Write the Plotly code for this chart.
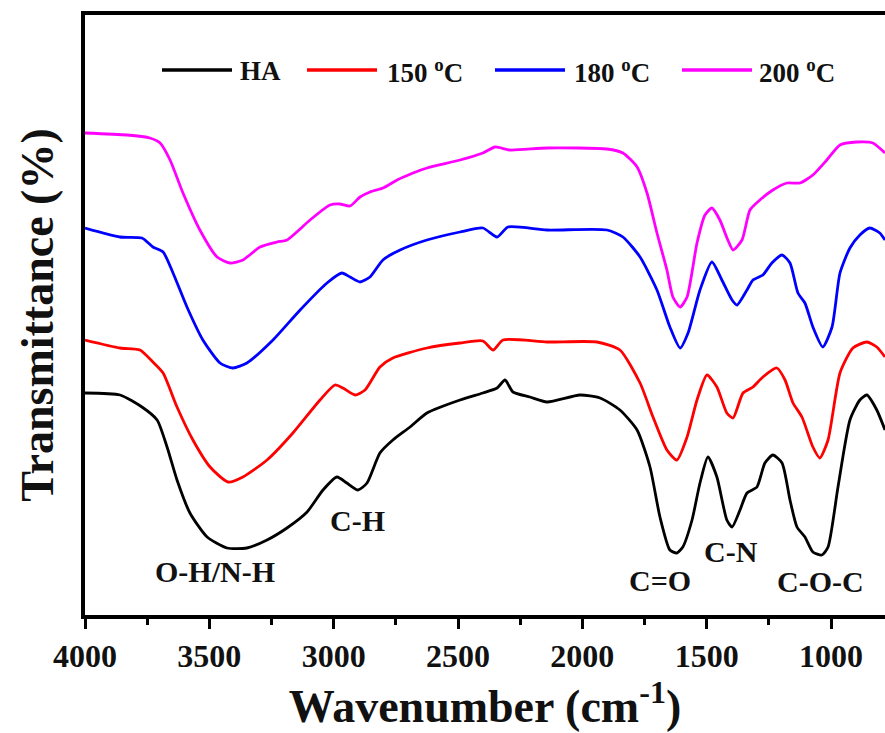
import plotly.graph_objects as go

# FTIR spectra (offset transmittance, arbitrary units) vs wavenumber (cm^-1)
series_names = ["HA", "150 <sup>o</sup>C", "180 <sup>o</sup>C", "200 <sup>o</sup>C"]
series_colors = ["#000000", "#ff0000", "#0000ff", "#ff00ff"]

ha_wn = [4000, 3859, 3771, 3710, 3670, 3630, 3578, 3509, 3429, 3349, 3268, 3188, 3107, 3043, 2987,
         2947, 2902, 2866, 2814, 2762, 2693, 2625, 2492, 2400, 2343, 2311, 2279, 2211, 2142, 2010,
         1929, 1849, 1780, 1728, 1688, 1648, 1620, 1596, 1559, 1527, 1495, 1459, 1419, 1398, 1366,
         1338, 1298, 1266, 1234, 1197, 1165, 1137, 1105, 1073, 1037, 1012, 972, 924, 884, 856, 816, 783]
ha_t = [219, 217, 205, 192, 165, 132, 99, 75, 64, 64, 72, 84, 100, 122, 135,
        129, 122, 129, 159, 172, 185, 199, 212, 219, 224, 232, 220, 215, 210, 217,
        214, 202, 182, 145, 95, 62, 59, 65, 92, 129, 155, 135, 92, 85, 102,
        119, 125, 149, 157, 149, 112, 85, 75, 60, 57, 65, 125, 192, 212, 217, 202, 182]

s150_wn = [4000, 3859, 3779, 3727, 3686, 3630, 3566, 3497, 3425, 3365, 3268, 3164, 3055, 2995, 2963,
           2914, 2874, 2814, 2762, 2625, 2492, 2400, 2359, 2319, 2142, 1941, 1849, 1768, 1716, 1660,
           1620, 1579, 1539, 1499, 1459, 1419, 1394, 1354, 1314, 1274, 1218, 1185, 1153, 1117, 1073,
           1045, 1012, 964, 912, 856, 816, 783]
s150_t = [272, 264, 262, 250, 239, 205, 172, 145, 130, 135, 152, 179, 212, 227, 224,
          217, 222, 245, 254, 264, 269, 271, 262, 272, 270, 270, 262, 229, 195, 162,
          152, 175, 212, 237, 225, 199, 194, 219, 225, 235, 244, 232, 209, 195, 165,
          154, 172, 239, 264, 270, 265, 255]

s180_wn = [4000, 3859, 3771, 3727, 3686, 3646, 3590, 3526, 3457, 3405, 3349, 3244, 3135, 3027, 2967,
           2934, 2894, 2854, 2802, 2733, 2625, 2492, 2400, 2343, 2299, 2142, 1901, 1837, 1768, 1700,
           1648, 1607, 1575, 1527, 1479, 1439, 1398, 1378, 1338, 1314, 1274, 1238, 1197, 1165, 1133,
           1105, 1073, 1033, 996, 964, 924, 884, 844, 804, 783]
s180_t = [384, 375, 374, 365, 360, 339, 305, 272, 249, 244, 249, 272, 302, 329, 339,
          335, 330, 335, 352, 362, 372, 380, 384, 375, 385, 382, 382, 375, 355, 322,
          285, 264, 279, 322, 350, 332, 312, 307, 322, 332, 337, 349, 357, 349, 319,
          309, 285, 265, 285, 339, 364, 377, 384, 379, 372]

s200_wn = [4000, 3831, 3739, 3698, 3658, 3606, 3538, 3469, 3417, 3365, 3296, 3228, 3188, 3095, 3015,
           2975, 2934, 2894, 2854, 2802, 2745, 2681, 2625, 2492, 2400, 2351, 2291, 2142, 1901, 1837,
           1780, 1740, 1700, 1660, 1636, 1607, 1579, 1539, 1507, 1479, 1447, 1415, 1394, 1358, 1326,
           1286, 1234, 1177, 1125, 1073, 1017, 964, 896, 832, 783]
s200_t = [479, 477, 474, 469, 452, 419, 382, 355, 349, 352, 365, 370, 372, 392, 407,
          408, 406, 415, 420, 424, 432, 439, 444, 452, 459, 465, 462, 464, 463, 459,
          445, 419, 379, 342, 315, 305, 315, 369, 397, 404, 392, 372, 362, 372, 402,
          412, 422, 429, 429, 437, 452, 467, 470, 469, 459]

x_ticks = [4000, 3500, 3000, 2500, 2000, 1500, 1000]

# Band assignments: label, wavenumber, ordinate
band_labels = ["O-H/N-H", "C-H", "C=O", "C-N", "C-O-C"]
band_wn = [3477, 2906, 1688, 1402, 1041]
band_y = [41, 92, 32, 61, 31]

FONT = "Liberation Serif"

spectra = [(ha_wn, ha_t), (s150_wn, s150_t), (s180_wn, s180_t), (s200_wn, s200_t)]

fig = go.Figure()
for (wn, t), name, color in zip(spectra, series_names, series_colors):
    fig.add_trace(go.Scatter(
        x=wn, y=t, mode="lines", name=name, showlegend=False,
        line=dict(color=color, width=2.8, shape="spline", smoothing=0.6),
    ))

# Horizontal legend drawn inside the top of the frame
leg_line_x0 = [162, 307, 495, 682]
leg_text_x = [238, 385, 572, 757]
leg_y = 70
W_PLOT, H_PLOT, L, T = 800, 600, 85, 15


def px_to_paper_x(px):
    return (px - L) / W_PLOT


def px_to_paper_y(py):
    return (T + H_PLOT - py) / H_PLOT


for x0, tx, name, color in zip(leg_line_x0, leg_text_x, series_names, series_colors):
    fig.add_shape(type="line", xref="paper", yref="paper",
                  x0=px_to_paper_x(x0), x1=px_to_paper_x(x0 + 70),
                  y0=px_to_paper_y(leg_y), y1=px_to_paper_y(leg_y),
                  line=dict(color=color, width=3.5))
    fig.add_annotation(xref="paper", yref="paper", x=px_to_paper_x(tx), y=px_to_paper_y(leg_y + 1),
                       text=name, showarrow=False, xanchor="left", yanchor="middle",
                       font=dict(family=FONT, size=27, color="#111111", weight="bold"))

for lab, wn, yv in zip(band_labels, band_wn, band_y):
    fig.add_annotation(x=wn, y=yv, text=lab, showarrow=False,
                       xanchor="center", yanchor="middle",
                       font=dict(family=FONT, size=30, color="#111111", weight="bold"))

fig.update_layout(
    width=885, height=733,
    margin=dict(l=L, r=0, t=T, b=733 - T - H_PLOT),
    paper_bgcolor="white", plot_bgcolor="white",
    showlegend=False,
)
fig.update_xaxes(
    range=[4000, 783], tickvals=x_ticks, ticktext=[str(v) for v in x_ticks],
    showline=True, linecolor="black", linewidth=3.5, mirror=True,
    ticks="outside", ticklen=10, tickwidth=2.5, tickcolor="black",
    minor=dict(tickvals=[3750, 3250, 2750, 2250, 1750, 1250], ticks="outside",
               ticklen=6, tickwidth=2.5, tickcolor="black"),
    showgrid=False, zeroline=False,
    tickfont=dict(family=FONT, size=32, color="#111111", weight="bold"),
    title=dict(text="Wavenumber (cm<sup>-1</sup>)", standoff=14,
               font=dict(family=FONT, size=46, color="#111111", weight="bold")),
)
fig.update_yaxes(
    range=[-3, 597], showline=True, linecolor="black", linewidth=3.5, mirror=False,
    showticklabels=False, ticks="", showgrid=False, zeroline=False,
    title=dict(text="Transmittance (%)", standoff=14,
               font=dict(family=FONT, size=46, color="#111111", weight="bold")),
)

fig.write_html("out.html")
